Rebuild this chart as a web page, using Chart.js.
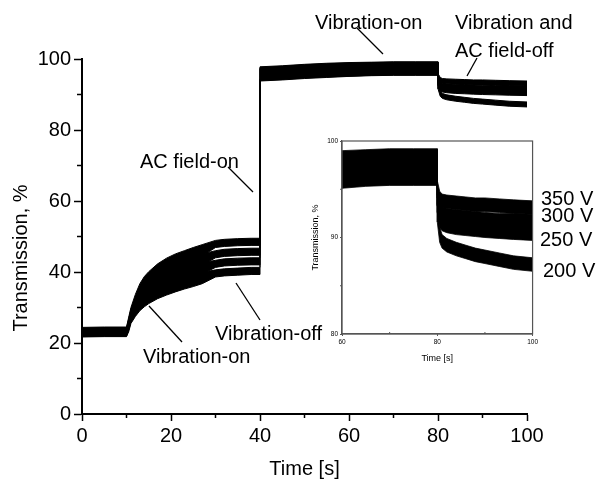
<!DOCTYPE html>
<html>
<head>
<meta charset="utf-8">
<script src="https://cdn.jsdelivr.net/npm/chart.js@4.4.0/dist/chart.umd.min.js"></script>
<style>
  html, body { margin: 0; padding: 0; background: #fff; }
  #wrap { position: relative; width: 597px; height: 480px; }
  #mainBox { position: absolute; left: 0; top: 0; width: 597px; height: 480px; }
  #insetBox { position: absolute; left: 300px; top: 120px; width: 240px; height: 250px; }
</style>
</head>
<body>
<div id="wrap">
  <div id="mainBox"><canvas id="mainChart"></canvas></div>
  <div id="insetBox"><canvas id="insetChart"></canvas></div>
</div>
<script>
// --- data ---
// time axis (s), shared by all four voltages; 40 and 80 are repeated for the steps
const timeS = [0, 5, 10, 10.5, 11, 12, 13, 14, 15, 17, 19, 21, 23, 25, 27,
  30, 32, 35, 38, 40, 40, 45, 50, 55, 60, 65, 70, 75, 80,
  80, 80.5, 81, 82, 84, 86, 88, 90, 93, 96, 100];

// half thickness of the noise band at each time (%)
const noiseHalf = [1.1, 1.1, 1.1, 1.3, 1.5, 1.7, 1.7, 1.7, 1.7, 1.7, 1.7, 1.7, 1.7, 1.7, 1.6,
  1.0, 1.0, 1.0, 1.0, 1.0, 1.7, 1.7, 1.7, 1.7, 1.7, 1.7, 1.7, 1.7, 1.7,
  0.9, 0.8, 0.7, 0.7, 0.7, 0.7, 0.7, 0.7, 0.7, 0.7, 0.7];

// mean transmission (%) per voltage
const trans200 = [22.8, 22.9, 22.9, 24.5, 27.0, 29.2, 30.8, 31.9, 32.8, 34.2, 35.2, 36.1, 36.9, 37.6, 38.3,
  39.6, 39.9, 40.1, 40.3, 40.3, 95.5, 95.8, 96.2, 96.5, 96.8, 97.0, 97.1, 97.1, 97.1,
  92.5, 90.3, 89.6, 89.2, 88.8, 88.5, 88.2, 88.0, 87.7, 87.4, 87.2];
const trans250 = [22.9, 23.0, 23.0, 25.0, 27.5, 30.0, 32.0, 33.4, 34.5, 36.2, 37.4, 38.5, 39.4, 40.2, 41.0,
  42.3, 42.7, 42.9, 43.0, 43.0, 95.7, 96.0, 96.4, 96.7, 96.9, 97.1, 97.2, 97.2, 97.2,
  93.5, 91.8, 91.4, 91.2, 91.0, 90.9, 90.8, 90.7, 90.6, 90.5, 90.4];
const trans300 = [23.1, 23.2, 23.2, 25.5, 28.0, 31.0, 33.5, 35.2, 36.5, 38.4, 39.8, 40.9, 41.8, 42.7, 43.5,
  45.0, 45.4, 45.6, 45.7, 45.7, 95.9, 96.2, 96.6, 96.9, 97.1, 97.3, 97.4, 97.4, 97.4,
  94.2, 92.8, 92.5, 92.3, 92.2, 92.1, 92.0, 91.9, 91.8, 91.8, 91.7];
const trans350 = [23.3, 23.4, 23.4, 26.0, 28.5, 32.0, 35.0, 37.0, 38.4, 40.6, 42.2, 43.4, 44.3, 45.2, 46.1,
  47.9, 48.2, 48.4, 48.5, 48.5, 96.1, 96.4, 96.8, 97.1, 97.3, 97.4, 97.5, 97.5, 97.5,
  95.0, 94.0, 93.8, 93.7, 93.6, 93.5, 93.4, 93.4, 93.3, 93.2, 93.1];

const voltageLabels = ['200 V', '250 V', '300 V', '350 V'];
const allSeries = [trans200, trans250, trans300, trans350];

const mainMinorX = [10, 30, 50, 70, 90];
const mainMinorY = [10, 30, 50, 70, 90];
const insetMinorX = [70, 90];
const insetMinorY = [85, 95];

const FONT = '"Liberation Sans", Arial, sans-serif';
Chart.defaults.font.family = FONT;
Chart.defaults.color = '#000';

// each voltage = lower edge + upper edge filled black (the noise band)
function buildBands(lineW) {
    const sets = [];
    allSeries.forEach((mid, k) => {
        sets.push({
            label: voltageLabels[k] + ' low',
            data: mid.map((v, i) => ({ x: timeS[i], y: v - noiseHalf[i] })),
            borderColor: '#000', borderWidth: lineW, pointRadius: 0, fill: false, tension: 0
        });
        sets.push({
            label: voltageLabels[k] + ' high',
            data: mid.map((v, i) => ({ x: timeS[i], y: v + noiseHalf[i] })),
            borderColor: '#000', borderWidth: lineW, pointRadius: 0,
            fill: '-1', backgroundColor: '#000', tension: 0
        });
    });
    return sets;
}

function line(ctx, x1, y1, x2, y2) {
    ctx.beginPath();
    ctx.moveTo(x1, y1);
    ctx.lineTo(x2, y2);
    ctx.stroke();
}

// --- main chart decorations: minor ticks, y title, notes ---
const mainDecor = {
    id: 'mainDecor',
    afterDraw(chart) {
        const { ctx, scales: { x, y } } = chart;
        ctx.save();
        ctx.strokeStyle = '#000';
        ctx.lineWidth = 1.5;
        mainMinorX.forEach(v => line(ctx, x.getPixelForValue(v), y.bottom, x.getPixelForValue(v), y.bottom + 4));
        mainMinorY.forEach(v => line(ctx, x.left, y.getPixelForValue(v), x.left - 5, y.getPixelForValue(v)));

        ctx.fillStyle = '#000';
        ctx.font = '20px ' + FONT;
        ctx.save();
        ctx.translate(27, 258);
        ctx.rotate(-Math.PI / 2);
        ctx.textAlign = 'center';
        ctx.textBaseline = 'alphabetic';
        ctx.fillText('Transmission, %', 0, 0);
        ctx.restore();

        ctx.textAlign = 'left';
        ctx.textBaseline = 'alphabetic';
        ctx.fillText('AC field-on', 140, 168);
        ctx.fillText('Vibration-on', 315, 29);
        ctx.fillText('Vibration and', 455, 29);
        ctx.fillText('AC field-off', 455, 57);
        ctx.fillText('Vibration-on', 143, 363);
        ctx.fillText('Vibration-off', 215, 340);
        ctx.fillText('350 V', 541, 205);
        ctx.fillText('300 V', 541, 222);
        ctx.fillText('250 V', 540, 246);
        ctx.fillText('200 V', 543, 277);

        ctx.lineWidth = 1.3;
        line(ctx, 228, 167, 253, 192);
        line(ctx, 357, 28, 383, 54);
        line(ctx, 477, 58, 467, 76);
        line(ctx, 149, 306, 182, 342);
        line(ctx, 236, 283, 260, 320);
        ctx.restore();
    }
};

// --- inset decorations: frame and minor ticks ---
const insetDecor = {
    id: 'insetDecor',
    afterDraw(chart) {
        const { ctx, chartArea: a, scales: { x, y } } = chart;
        ctx.save();
        ctx.strokeStyle = '#555';
        ctx.lineWidth = 1.2;
        ctx.strokeRect(a.left, a.top, a.right - a.left, a.bottom - a.top);
        ctx.lineWidth = 1;
        insetMinorX.forEach(v => line(ctx, x.getPixelForValue(v), a.bottom, x.getPixelForValue(v), a.bottom - 2));
        insetMinorY.forEach(v => line(ctx, a.left, y.getPixelForValue(v), a.left - 2, y.getPixelForValue(v)));
        ctx.restore();
    }
};

new Chart(document.getElementById('mainChart'), {
    type: 'line',
    data: { datasets: buildBands(1) },
    options: {
        responsive: true,
        maintainAspectRatio: false,
        animation: false,
        events: [],
        layout: { padding: { left: 0, top: 59, right: 70, bottom: 0 } },
        plugins: { legend: { display: false }, tooltip: { enabled: false } },
        scales: {
            x: {
                type: 'linear', min: 0, max: 100,
                ticks: { stepSize: 20, font: { size: 20 }, padding: 3, maxRotation: 0 },
                grid: { drawOnChartArea: false, tickLength: 7, tickWidth: 1.5, tickColor: '#000' },
                border: { color: '#000', width: 2 },
                title: { display: true, text: 'Time [s]', font: { size: 20, lineHeight: 1 }, padding: { top: 0, bottom: 1 } },
                afterFit: s => { s.height = 66; }
            },
            y: {
                min: 0, max: 100,
                ticks: { stepSize: 20, font: { size: 20 }, padding: 3 },
                grid: { drawOnChartArea: false, tickLength: 8, tickWidth: 1.5, tickColor: '#000' },
                border: { color: '#000', width: 2 },
                afterFit: s => { s.width = 82; }
            }
        }
    },
    plugins: [mainDecor]
});

new Chart(document.getElementById('insetChart'), {
    type: 'line',
    data: { datasets: buildBands(0.8) },
    options: {
        responsive: true,
        maintainAspectRatio: false,
        animation: false,
        events: [],
        layout: { padding: { left: 0, top: 21, right: 6, bottom: 0 } },
        plugins: { legend: { display: false }, tooltip: { enabled: false } },
        scales: {
            x: {
                type: 'linear', min: 60, max: 100,
                ticks: { stepSize: 20, font: { size: 6.5 }, padding: 2, maxRotation: 0 },
                grid: { drawOnChartArea: false, tickLength: 2, tickWidth: 1, tickColor: '#555' },
                border: { color: '#555', width: 1.2 },
                title: { display: true, text: 'Time [s]', font: { size: 9 }, padding: { top: 0, bottom: 6 } },
                afterFit: s => { s.height = 36; }
            },
            y: {
                min: 80, max: 100,
                ticks: { stepSize: 10, font: { size: 6.5 }, padding: 2 },
                grid: { drawOnChartArea: false, tickLength: 2, tickWidth: 1, tickColor: '#555' },
                border: { color: '#555', width: 1.2 },
                title: { display: true, text: 'Transmission, %', font: { size: 9 }, padding: { top: 10, bottom: 0 } },
                afterFit: s => { s.width = 42; }
            }
        }
    },
    plugins: [insetDecor]
});
</script>
</body>
</html>
